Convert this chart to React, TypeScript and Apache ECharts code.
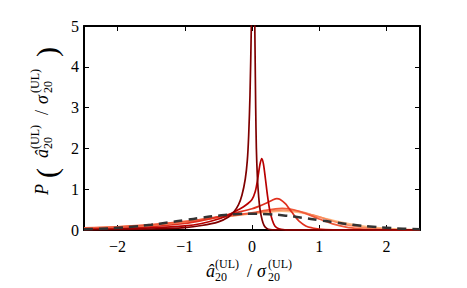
import React, { useEffect, useRef } from 'react';
import * as echarts from 'echarts';

const xTicks = [-2, -1, 0, 1, 2];
const xTickLabels = ['−2', '−1', '0', '1', '2'];
const yTicks = [0, 1, 2, 3, 4, 5];

const c1x = [-2.5, -2.0, -1.5, -1.0, -0.75, -0.5, -0.35, -0.27, -0.2, -0.15, -0.1, -0.07, -0.05, -0.03, -0.01, 0.005, 0.02, 0.035, 0.045, 0.055, 0.065, 0.08, 0.1, 0.12, 0.15, 0.18, 0.22, 0.27, 0.35, 0.6, 1.0, 2.5];
const c1y = [0.005, 0.012, 0.025, 0.06, 0.11, 0.2, 0.32, 0.44, 0.62, 0.85, 1.25, 1.7, 2.3, 3.3, 5.0, 7.0, 8.0, 6.0, 4.5, 3.0, 2.0, 1.3, 0.8, 0.5, 0.25, 0.11, 0.04, 0.01, 0.002, 0, 0, 0];

const c2x = [-2.5, -2.0, -1.5, -1.0, -0.75, -0.5, -0.35, -0.27, -0.2, -0.1, 0.0, 0.05, 0.08, 0.1, 0.12, 0.145, 0.17, 0.2, 0.23, 0.26, 0.3, 0.34, 0.4, 0.5, 0.6, 1.0, 2.5];
const c2y = [0.012, 0.025, 0.05, 0.1, 0.16, 0.27, 0.37, 0.44, 0.5, 0.6, 0.75, 0.95, 1.2, 1.42, 1.62, 1.75, 1.62, 1.25, 0.85, 0.52, 0.25, 0.1, 0.03, 0.005, 0, 0, 0];

const c3x = [-2.5, -2.0, -1.5, -1.0, -0.75, -0.5, -0.25, 0.0, 0.1, 0.2, 0.3, 0.37, 0.42, 0.5, 0.55, 0.6, 0.65, 0.7, 0.8, 0.9, 1.0, 1.2, 1.5, 2.5];
const c3y = [0.02, 0.04, 0.08, 0.16, 0.23, 0.32, 0.42, 0.52, 0.58, 0.65, 0.73, 0.77, 0.75, 0.64, 0.53, 0.42, 0.31, 0.22, 0.1, 0.05, 0.025, 0.006, 0, 0];

const c4x = [-2.5, -2.0, -1.5, -1.0, -0.5, 0.0, 0.2, 0.35, 0.45, 0.55, 0.7, 0.85, 1.0, 1.2, 1.4, 1.6, 1.8, 2.0, 2.5];
const c4y = [0.05, 0.08, 0.13, 0.21, 0.32, 0.42, 0.48, 0.52, 0.53, 0.52, 0.46, 0.37, 0.27, 0.15, 0.07, 0.03, 0.01, 0.003, 0];

const c5x = [-2.5, -2.0, -1.5, -1.0, -0.5, 0.0, 0.2, 0.35, 0.47, 0.6, 0.75, 0.9, 1.1, 1.3, 1.5, 1.7, 2.0, 2.3, 2.5];
const c5y = [0.045, 0.075, 0.12, 0.2, 0.31, 0.41, 0.45, 0.48, 0.49, 0.48, 0.44, 0.37, 0.27, 0.17, 0.1, 0.05, 0.015, 0.005, 0.002];

const c6x = [-2.5, -2.0, -1.5, -1.0, -0.5, 0.0, 0.2, 0.44, 0.6, 0.8, 1.0, 1.3, 1.6, 1.9, 2.2, 2.5];
const c6y = [0.04, 0.07, 0.115, 0.19, 0.3, 0.4, 0.43, 0.46, 0.45, 0.4, 0.32, 0.2, 0.11, 0.05, 0.02, 0.007];

const gx = [-2.5, -2.25, -2.0, -1.75, -1.5, -1.25, -1.0, -0.75, -0.5, -0.25, 0, 0.25, 0.5, 0.75, 1.0, 1.25, 1.5, 1.75, 2.0, 2.25, 2.5];
const gy = [0.0175, 0.0317, 0.054, 0.0863, 0.1295, 0.1826, 0.242, 0.3011, 0.3521, 0.3867, 0.3989, 0.3867, 0.3521, 0.3011, 0.242, 0.1826, 0.1295, 0.0863, 0.054, 0.0317, 0.0175];

const curveColors = ['#fdbb84', '#f98a5e', '#f05a3a', '#e0301e', '#b80000', '#7f0000'];

const FONT = 'Liberation Serif';

const zip = (xs: number[], ys: number[]) => xs.map((x, i) => [x, ys[i]]);

function txt(text: string, x: number, y: number, size: number, italic = false) {
  return {
    type: 'text',
    x,
    y,
    style: {
      text,
      fontFamily: FONT,
      fontSize: size,
      fontStyle: italic ? 'italic' : 'normal',
      fill: '#000',
      textAlign: 'left',
      textVerticalAlign: 'middle',
    },
  };
}

export default function App() {
  const ref = useRef<HTMLDivElement>(null);
  useEffect(() => {
    document.body.style.margin = '0';
    if (!ref.current) return;
    const chart = echarts.init(ref.current, null, { renderer: 'svg' });
    const axisLine = { show: true, onZero: false, lineStyle: { color: '#000', width: 2 } };
    const tick = { show: true, inside: true, length: 5, lineStyle: { color: '#000', width: 1 } };
    const curves = [
      [c6x, c6y],
      [c5x, c5y],
      [c4x, c4y],
      [c3x, c3y],
      [c2x, c2y],
      [c1x, c1y],
    ];
    const series: any[] = curves.map(([xs, ys], i) => ({
      type: 'line',
      data: zip(xs, ys),
      showSymbol: false,
      smooth: 0.3,
      clip: true,
      lineStyle: { color: curveColors[i], width: 1.7 },
      z: 2 + i,
    }));
    series.push({
      type: 'line',
      data: zip(gx, gy),
      showSymbol: false,
      smooth: true,
      clip: true,
      lineStyle: { color: '#333', width: 2.5, type: [9, 6] },
      z: 10,
    });

    const xl = 206;
    const xb = 271;
    const yLabel = [
      txt('P', 0, -6, 18, true),
      txt('(', 17, -2, 30),
      txt('â', 37, -6, 18, true),
      txt('(UL)', 46, -13, 12),
      txt('20', 46, 0, 12),
      txt('/', 80, -6, 18),
      txt('σ', 91, -6, 18, true),
      txt('(UL)', 102, -13, 12),
      txt('20', 102, 0, 12),
      txt(')', 138, -2, 30),
    ];

    chart.setOption({
      animation: false,
      grid: { left: 84, right: 47, top: 26, bottom: 58 },
      xAxis: [
        {
          type: 'value',
          min: -2.5,
          max: 2.5,
          axisLine,
          axisTick: { ...tick, customValues: xTicks },
          splitLine: { show: false },
          axisLabel: {
            customValues: xTicks,
            margin: 8,
            fontFamily: FONT,
            fontSize: 16,
            color: '#000',
            formatter: (v: number) => xTickLabels[xTicks.indexOf(Math.round(v))] ?? '',
          },
        },
        {
          type: 'value',
          position: 'top',
          min: -2.5,
          max: 2.5,
          axisLine,
          axisTick: { ...tick, customValues: xTicks },
          splitLine: { show: false },
          axisLabel: { show: false, customValues: xTicks },
        },
      ],
      yAxis: [
        {
          type: 'value',
          min: 0,
          max: 5,
          interval: 1,
          axisLine,
          axisTick: tick,
          splitLine: { show: false },
          axisLabel: {
            margin: 5,
            fontFamily: FONT,
            fontSize: 16,
            color: '#000',
            formatter: (v: number) => String(yTicks[yTicks.indexOf(v)]),
          },
        },
        {
          type: 'value',
          position: 'right',
          min: 0,
          max: 5,
          interval: 1,
          axisLine,
          axisTick: tick,
          splitLine: { show: false },
          axisLabel: { show: false },
        },
      ],
      series,
      graphic: [
        {
          type: 'group',
          silent: true,
          children: [
            txt('â', xl, xb, 18, true),
            txt('(UL)', xl + 9, xb - 7, 12),
            txt('20', xl + 9, xb + 6, 12),
            txt('/', xl + 41, xb, 18),
            txt('σ', xl + 51, xb, 18, true),
            txt('(UL)', xl + 62, xb - 7, 12),
            txt('20', xl + 62, xb + 6, 12),
          ],
        },
        {
          type: 'group',
          silent: true,
          x: 48,
          y: 195,
          rotation: Math.PI / 2,
          children: yLabel,
        },
      ],
    });
    return () => chart.dispose();
  }, []);
  return <div ref={ref} style={{ width: 467, height: 288 }} />;
}
